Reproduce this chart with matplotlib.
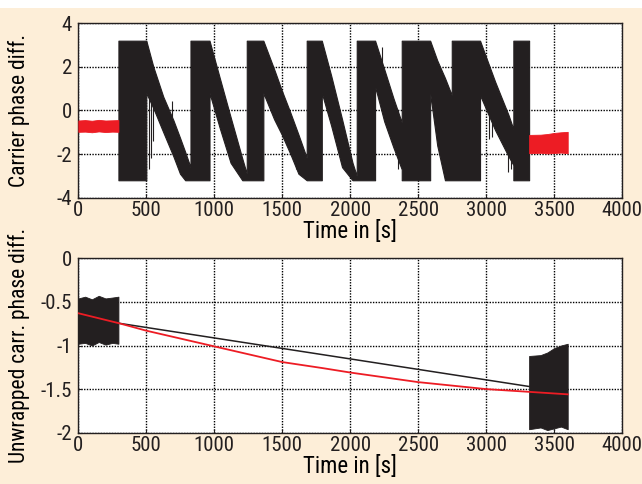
import matplotlib
matplotlib.use("Agg")
import matplotlib.pyplot as plt
from matplotlib.patches import Rectangle
from matplotlib import font_manager

# condensed face if one is available, otherwise a plain sans
names = {f.name for f in font_manager.fontManager.ttflist}
for cand in ['DejaVu Sans Condensed', 'Liberation Sans Narrow', 'Roboto Condensed',
             'Open Sans Condensed', 'Noto Sans Condensed', 'Liberation Sans']:
    if cand in names:
        FACE = cand
        break
else:
    FACE = 'DejaVu Sans'
plt.rcParams['font.family'] = [FACE, 'DejaVu Sans']

BG = '#fdeed8'
INK = '#231f20'
RED = '#ed1c24'

# wrapped carrier phase difference, outline of the dense trace (t in s)
wrap_t = [295, 500, 500, 552, 625, 699, 748, 786, 825,
          825, 965, 965, 1040, 1120, 1206, 1239,
          1239, 1361, 1361, 1440, 1496, 1560, 1619, 1680,
          1680, 1791, 1791, 1860, 1940, 2017, 2048,
          2048, 2183, 2183, 2250, 2318, 2379,
          2379, 2588, 2588, 2640, 2697, 2747,
          2747, 2955, 2955, 3066, 3164, 3200,
          3200, 3316]
wrap_hi = [3.2, 3.2, 3.2, 2.0, 0.63, -0.44, -1.25, -1.9, -2.6,
           3.2, 3.2, 3.2, 1.5, -0.3, -2.2, -2.9,
           3.2, 3.2, 3.2, 1.9, 0.93, -0.1, -1.1, -2.17,
           3.2, 3.2, 3.2, 1.6, -0.4, -2.4, -3.0,
           3.2, 3.2, 3.2, 1.9, 0.56, -0.55,
           3.2, 3.2, 3.2, 2.3, 1.49, 0.7,
           3.2, 3.2, 3.2, 1.32, -0.2, -0.85,
           3.2, 3.2]
wrap_lo = [-3.2, -3.2, 0.8, 0.1, -1.0, -2.1, -2.9, -3.2, -3.2,
           -3.2, -3.2, 0.8, -0.8, -2.4, -3.2, -3.2,
           -3.2, -3.2, 0.8, -0.4, -1.1, -2.0, -2.9, -3.2,
           -3.2, -3.2, 0.8, -0.7, -2.6, -3.2, -3.2,
           -3.2, -3.2, 1.1, -0.5, -1.7, -2.7,
           -3.2, -3.2, 0.8, -1.6, -3.2, -3.2,
           -3.2, -3.2, 0.7, -0.9, -2.1, -2.5,
           -3.2, -3.2]

# isolated outliers sticking out of the trace: time, from, to
spike_t = [520, 535, 552, 690, 1600, 1640, 2232, 2350, 2647, 3020, 3040, 3160, 3185]
spike_a = [1.0, 0.5, 0.5, -0.3, -1.4, -1.6, 1.9, 0.0, 2.0, 0.1, -0.2, -1.4, -1.6]
spike_b = [-2.7, -2.2, -1.4, 0.45, -2.7, -2.8, 2.9, -2.7, -0.74, -1.3, -1.2, -2.8, -2.7]

# carrier phase while both signals are present (start and end)
start_t = [0, 50, 100, 150, 200, 250, 295]
start_hi = [-0.46, -0.44, -0.47, -0.43, -0.46, -0.45, -0.44]
start_lo = [-0.98, -0.97, -1.0, -0.96, -0.99, -0.97, -0.98]
end_t = [3316, 3400, 3450, 3500, 3550, 3600]
end_hi = [-1.12, -1.11, -1.08, -1.03, -1.0, -0.98]
end_lo = [-1.96, -1.94, -1.97, -1.95, -1.93, -1.96]

# unwrapped phase: bridging line and estimated drift
bridge_t = [300, 3316]
bridge_v = [-0.745, -1.47]
drift_t = [0, 300, 500, 1000, 1500, 1800, 2000, 2500, 3000, 3300, 3500, 3600]
drift_v = [-0.63, -0.745, -0.83, -1.01, -1.19, -1.26, -1.31, -1.42, -1.50, -1.53, -1.55, -1.56]

x_ticks = [0, 500, 1000, 1500, 2000, 2500, 3000, 3500, 4000]
top_yticks = [-4, -2, 0, 2, 4]
bot_yticks = [-2, -1.5, -1, -0.5, 0]
bot_ylabels = ['-2', '-1.5', '-1', '-0.5', '0']

fig = plt.figure(figsize=(6.42, 4.84), dpi=100, facecolor=BG)
fig.patches.append(Rectangle((0, 0.983), 1, 0.017, transform=fig.transFigure,
                             facecolor='white', edgecolor='none', zorder=0))

ax1 = fig.add_axes([0.122, 0.5915, 0.847, 0.3605])
ax2 = fig.add_axes([0.122, 0.106, 0.847, 0.3603])

ax1.fill_between(wrap_t, wrap_lo, wrap_hi, color=INK, linewidth=0.8, zorder=3)
ax1.vlines(spike_t, spike_a, spike_b, color=INK, linewidth=0.8, zorder=3)
ax1.fill_between(start_t, start_lo, start_hi, color=RED, linewidth=0.6, zorder=3)
ax1.fill_between(end_t, end_lo, end_hi, color=RED, linewidth=0.6, zorder=3)
ax1.set_ylim(-4, 4)
ax1.set_yticks(top_yticks)
ax1.set_yticklabels([str(v) for v in top_yticks])
ax1.set_ylabel('Carrier phase diff.', fontsize=15.5)

ax2.fill_between(start_t, start_lo, start_hi, color=INK, linewidth=0.6, zorder=3)
ax2.fill_between(end_t, end_lo, end_hi, color=INK, linewidth=0.6, zorder=3)
ax2.plot(bridge_t, bridge_v, color=INK, linewidth=1.1, zorder=4)
ax2.plot(drift_t, drift_v, color=RED, linewidth=1.3, zorder=5)
ax2.set_ylim(-2, 0)
ax2.set_yticks(bot_yticks)
ax2.set_yticklabels(bot_ylabels)
ax2.set_ylabel('Unwrapped carr. phase diff.', fontsize=15.5)

for ax in (ax1, ax2):
    ax.set_facecolor('white')
    ax.set_xlim(0, 4000)
    ax.set_xticks(x_ticks)
    ax.set_xticklabels([str(v) for v in x_ticks])
    ax.set_xlabel('Time in [s]', fontsize=16.5, labelpad=0)
    ax.yaxis.set_label_coords(-0.089, 0.5)
    ax.grid(True, color='black', linestyle=(0, (1, 1)), linewidth=1.0)
    ax.set_axisbelow(True)
    ax.tick_params(direction='in', length=3, labelsize=15, colors=INK)
    ax.tick_params(axis='x', pad=2.5)
    ax.tick_params(axis='y', pad=4.5)
    for s in ax.spines.values():
        s.set_color(INK)
        s.set_linewidth(1.0)

fig.savefig('out.png', dpi=100, facecolor=BG)
